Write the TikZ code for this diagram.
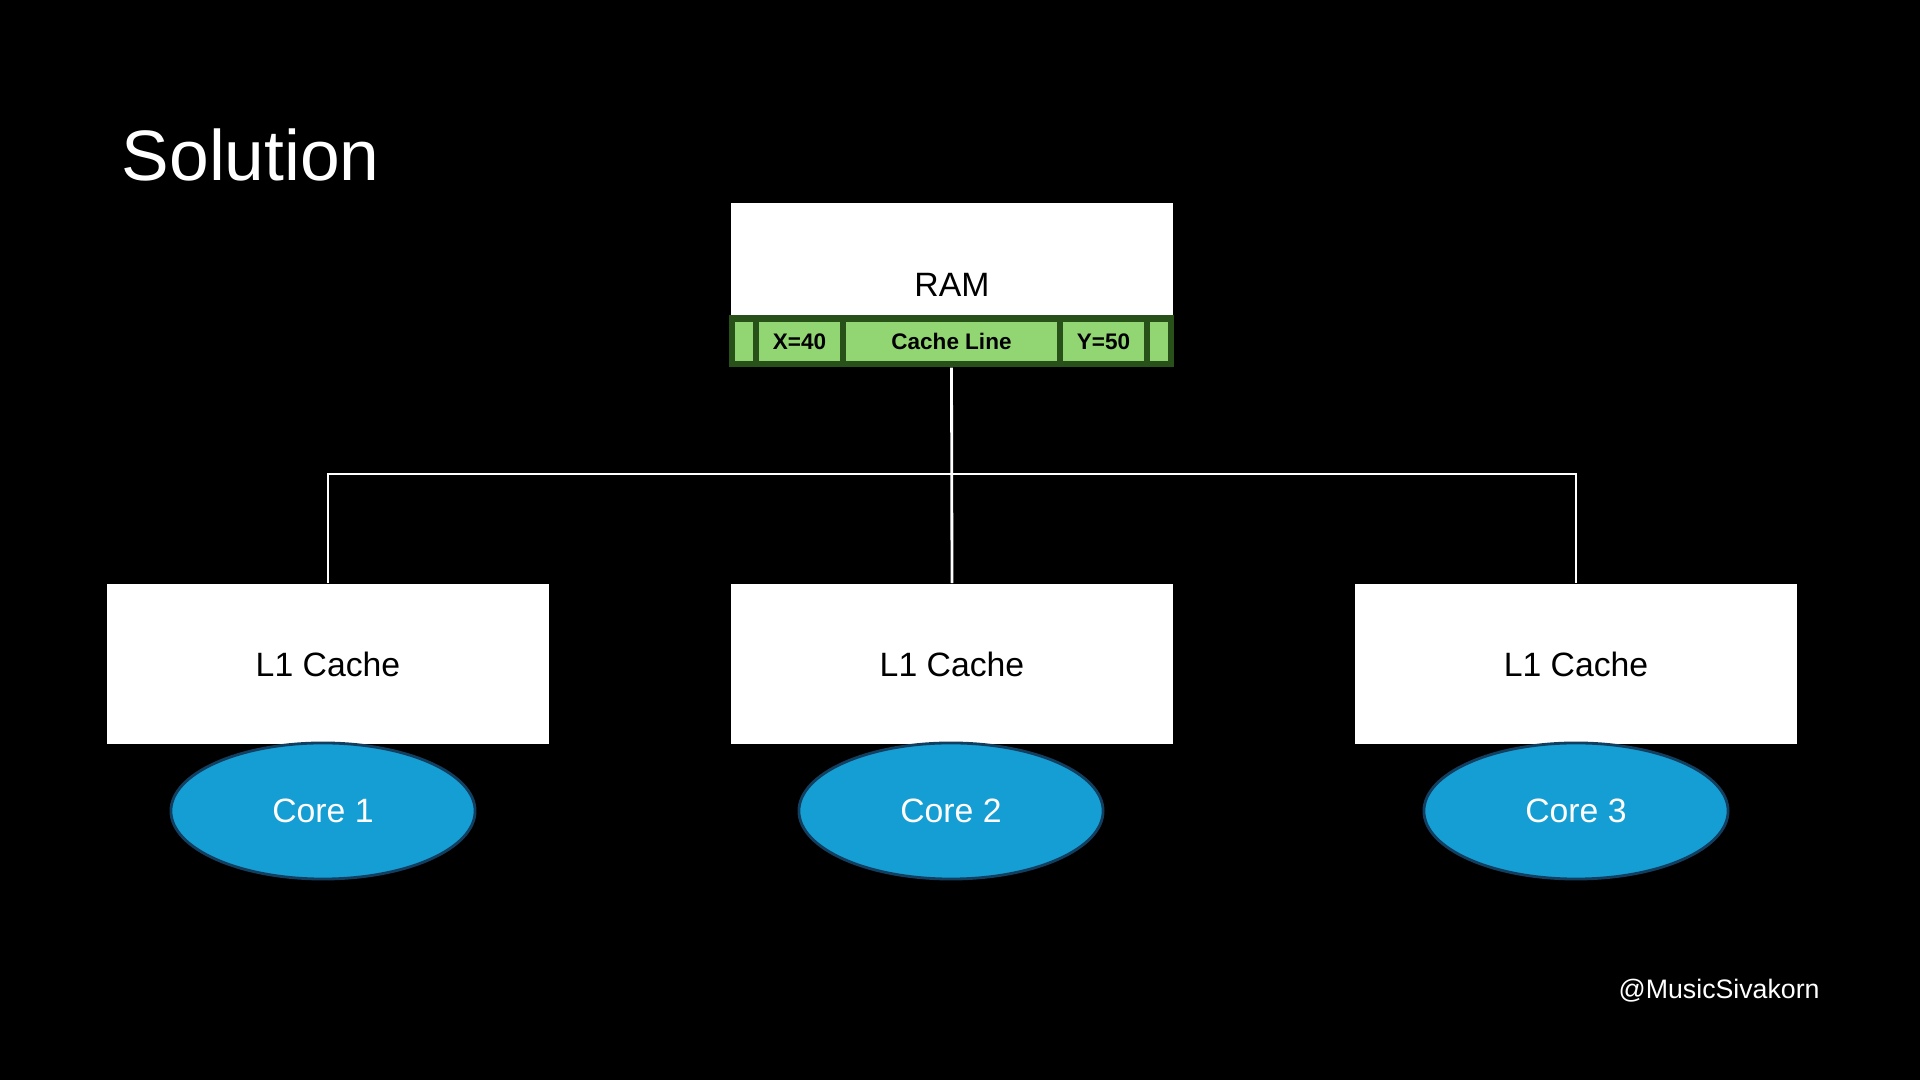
\documentclass[tikz,border=0pt]{standalone}
\usepackage{fontspec}
\setmainfont{Liberation Sans}
\usetikzlibrary{shapes.geometric}

\definecolor{linegreen}{RGB}{146,214,115}
\definecolor{darkgreen}{RGB}{40,80,25}
\definecolor{coreblue}{RGB}{20,158,212}
\definecolor{coreedge}{RGB}{18,62,95}

\begin{document}
\begin{tikzpicture}[x=0.01cm, y=-0.01cm]
  % Set the node styles
  \tikzset{membox/.style={rectangle, fill=white, minimum width=4.42cm, inner sep=0pt,
      font=\fontsize{9.6}{11}\selectfont},
    segbox/.style={rectangle, fill=linegreen, minimum height=0.39cm, inner sep=0pt,
      font=\fontsize{6.4}{7}\selectfont\bfseries},
    corenode/.style={ellipse, fill=coreblue, draw=coreedge, line width=0.8pt,
      minimum width=3.04cm, minimum height=1.36cm, text=white,
      font=\fontsize{9.6}{11}\selectfont},
    bus/.style={draw=white, line width=0.8pt}}

  % Background
  \fill[black] (0,0) rectangle (1920,1080);

  % Title and handle
  \node[anchor=base west, text=white, inner sep=0pt, font=\fontsize{20.3}{24}\selectfont] (title) at (121,181) {Solution};
  \node[anchor=base west, text=white, inner sep=0pt, font=\fontsize{7.6}{9}\selectfont] (handle) at (1618,999) {@MusicSivakorn};

  % Draw the RAM and its cache line
  \node[membox, minimum height=1.64cm] (ram) at (952,285) {RAM};
  \node[rectangle, fill=darkgreen, minimum width=4.45cm, minimum height=0.52cm, inner sep=0pt] (line) at (951.5,341) {};
  \foreach \name/\x/\w/\txt in {s1/744/0.18/{}, sx/799.5/0.81/{X=40}, sc/951.5/2.11/{Cache Line},
      sy/1103.5/0.81/{Y=50}, s5/1159/0.18/{}}{
    \node[segbox, minimum width=\w cm] (\name) at (\x,341.5) {\txt};
  }

  % Draw the L1 caches and the cores
  \foreach \i/\x/\cx in {1/328/323, 2/952/951, 3/1576/1576}{
    \node[membox, minimum height=1.6cm] (l\i) at (\x,664) {L1 Cache};
    \node[corenode] (core\i) at (\cx,811) {Core \i};
  }

  % Connect the cache line to the L1 caches
  \coordinate (split) at (952,474);
  \draw[bus] (line.south) -- (l2.north);
  \draw[bus] (l1.north) -- (l1.north |- split) -- (l3.north |- split) -- (l3.north);
\end{tikzpicture}
\end{document}
